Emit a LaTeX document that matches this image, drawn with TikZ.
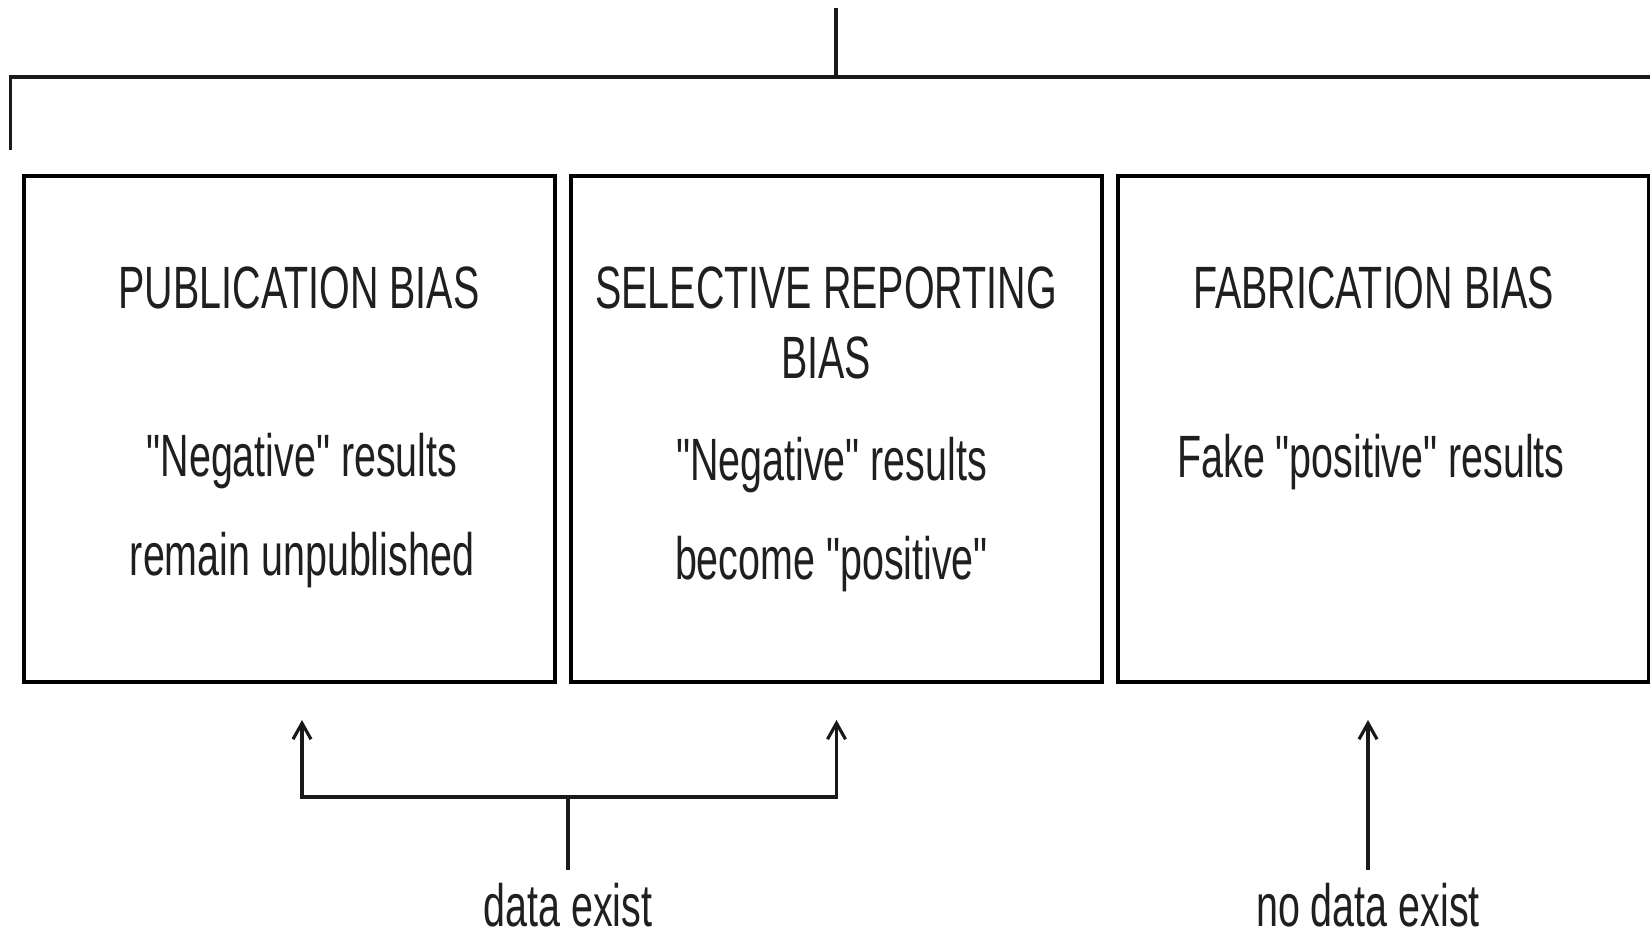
\documentclass[tikz,border=0pt]{standalone}
\usepackage{fontspec}
\setmainfont{Liberation Sans}[FakeStretch=0.66, Ligatures=TeXOff]
\usepackage{tikz}
\usetikzlibrary{positioning,arrows.meta}

\begin{document}
\begin{tikzpicture}[
  region/.style={draw, line width=1.9pt, minimum width=10.62cm,
                 minimum height=10.12cm, inner sep=0pt, outer sep=0pt},
  title/.style={font=\fontsize{34pt}{39.7pt}\selectfont, align=center,
                anchor=base, inner sep=0pt, text=black!88},
  body/.style={font=\fontsize{34pt}{56pt}\selectfont, align=center,
               anchor=base, inner sep=0pt, text=black!88},
  line/.style={line width=1.8pt, draw=black!90},
  arr/.style={line, -{Straight Barb[length=0.32cm,width=0.36cm]}}
]
  \useasboundingbox (0,0) rectangle (33,-18.72);

  % bracket at the top
  \coordinate (root) at (16.72,-0.16);
  \coordinate (lbar) at (0.21,-1.54);
  \coordinate (rbar) at (33.2,-1.54);
  \coordinate (lend) at (0.21,-3.0);
  \draw[line] (root) -- (root |- lbar);
  \draw[line] (lend) -- (lbar) -- (rbar);

  % publication bias (left)
  \node[region] (pub) at (5.79,-8.58) {};
  \node[title] (pubt) at (5.98,-6.16) {PUBLICATION BIAS};
  \node[body] (pubb) at (6.04,-11.5) {"Negative" results\\remain unpublished};

  % selective reporting bias (middle)
  \node[region] (sel) at (16.73,-8.58) {};
  \node[title] (selt) at (16.52,-7.56) {SELECTIVE REPORTING\\BIAS};
  \node[body] (selb) at (16.63,-11.58) {"Negative" results\\become "positive"};

  % fabrication bias (right)
  \node[region] (fab) at (27.67,-8.58) {};
  \node[title] (fabt) at (27.47,-6.16) {FABRICATION BIAS};
  \node[body] (fabb) at (27.42,-9.54) {Fake "positive" results};

  % data labels below
  \node[body] (dataex) at (11.36,-18.52) {data exist};
  \node[body] (nodata) at (27.36,-18.52) {no data exist};

  \coordinate (fork) at (11.36,-15.94);
  \draw[line] ([yshift=0.24cm]dataex.north) -- (fork);
  \draw[arr] (fork) -| ([xshift=0.25cm,yshift=-0.76cm]pub.south);
  \draw[arr] (fork) -| ([yshift=-0.76cm]sel.south);
  \draw[arr] ([yshift=0.24cm]nodata.north) -- ([xshift=-0.31cm,yshift=-0.76cm]fab.south);
\end{tikzpicture}
\end{document}
